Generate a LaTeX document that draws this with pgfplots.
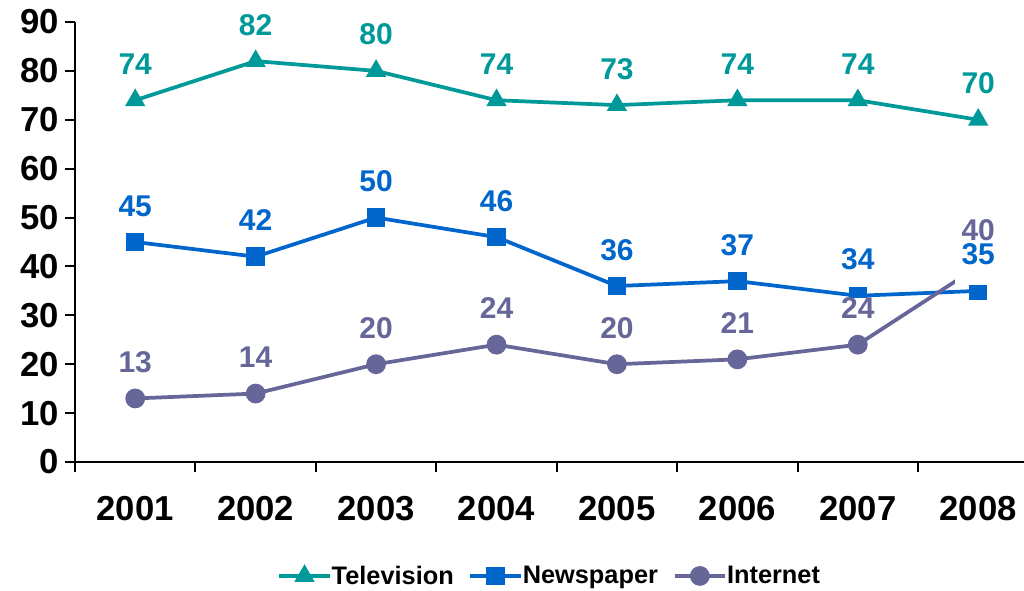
\documentclass[border=0pt]{standalone}
\usepackage{fontspec}
\setmainfont{Liberation Sans}
\usepackage{pgfplots}
\pgfplotsset{compat=1.18}
\definecolor{tv}{RGB}{0,153,153}
\definecolor{np}{RGB}{0,102,204}
\definecolor{web}{RGB}{102,102,153}

% dp = depth of the white box under a value label (pt)
\pgfplotstableread{
x year tv np web dp npdp
0 2001 74 45 13 4 4
1 2002 82 42 14 4 4
2 2003 80 50 20 4 4
3 2004 74 46 24 4 4
4 2005 73 36 20 4 4
5 2006 74 37 21 4 4
6 2007 74 34 24 4 4
7 2008 70 35 40 4 15
}\media

\begin{document}
\begin{tikzpicture}
\begin{axis}[
  at={(56.25pt,96pt)}, anchor=south west,
  scale only axis, width=711.75pt, height=330pt,
  xmin=-0.5, xmax=7.38, ymin=0, ymax=90,
  clip=false,
  axis x line=bottom, axis y line=left,
  axis line style={-, line width=1.5pt},
  tick align=outside,
  ytick={0,10,...,90},
  xtick={0,...,7},
  xticklabels={2001,2002,2003,2004,2005,2006,2007,2008},
  minor xtick={-0.5,0.5,...,6.5},
  major x tick style={draw=none},
  minor x tick style={black, line width=1.5pt},
  major y tick style={black, line width=1.5pt},
  major tick length=7.5pt, minor tick length=7.5pt,
  /pgf/number format/assume math mode=true,
  yticklabel style={font=\bfseries\fontsize{26}{28}\selectfont, xshift=-1.2pt},
  xticklabel style={font=\bfseries\fontsize{26}{28}\selectfont, anchor=base, yshift=-36.5pt},
  legend style={at={(0.5005,-0.259)}, anchor=center, draw=none, fill=none,
    legend columns=3, font=\bfseries\fontsize{19}{21}\selectfont,
    /tikz/every even column/.append style={column sep=9pt},
    /tikz/every odd column/.append style={column sep=-2pt}},
  legend image code/.code={\draw[mark repeat=2, mark phase=2, #1]
    plot coordinates {(0pt,0pt) (19pt,0pt) (38pt,0pt)};},
  every axis plot/.append style={line width=2.8pt},
  label dot/.style 2 args={draw=none, mark=none, forget plot,
    nodes near coords, point meta=explicit symbolic,
    visualization depends on={\thisrow{#2} \as \boxdp},
    every node near coord/.append style={anchor=base, yshift=19.5pt,
      font=\bfseries\fontsize{22.5}{25}\selectfont, fill=white,
      inner xsep=5pt, inner ysep=0pt, text depth=\boxdp pt, text=#1}},
]
\addplot[tv, mark=triangle*, mark size=6pt] table[x=x, y=tv] {\media};
\addlegendentry{Television}
\addplot[np, mark=square*, mark size=5.5pt] table[x=x, y=np] {\media};
\addlegendentry{Newspaper}
\addplot[web, mark=*, mark size=6pt] table[x=x, y=web] {\media};
\addlegendentry{Internet}

\addplot[label dot={tv}{dp}] table[x=x, y=tv, meta=tv] {\media};
\addplot[label dot={web}{dp}] table[x=x, y=web, meta=web] {\media};
\addplot[label dot={np}{npdp}] table[x=x, y=np, meta=np] {\media};
\end{axis}
\pgfresetboundingbox
\path[use as bounding box] (0pt,0pt) rectangle (768pt,442.5pt);
\end{tikzpicture}
\end{document}
